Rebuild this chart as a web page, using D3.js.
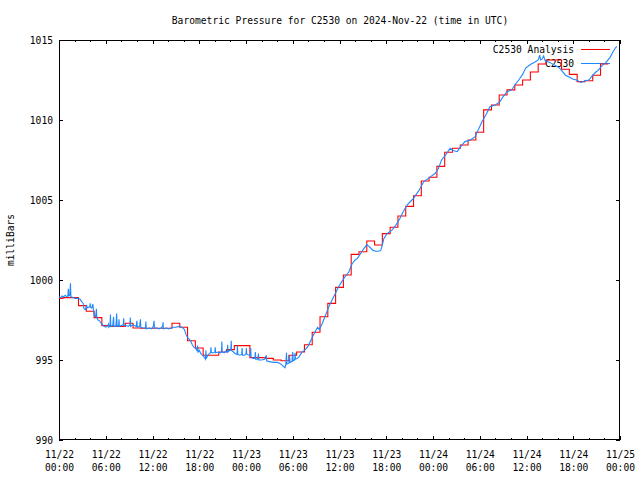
<!DOCTYPE html>
<html><head><meta charset="utf-8">
<script src="https://cdn.jsdelivr.net/npm/d3@7"></script>
<style>
html,body{margin:0;padding:0;background:#fff;}
svg{display:block;}
text{font-family:"DejaVu Sans Mono","Liberation Mono",monospace;font-size:11px;fill:#000;}
</style></head>
<body>
<svg id="chart" width="640" height="480"></svg>
<script>
// ---------- data ----------
const titleText = "Barometric Pressure for C2530 on 2024-Nov-22 (time in UTC)";
const yLabelText = "milliBars";
const seriesNames = ["C2530 Analysis", "C2530"];
const yTicks = [990, 995, 1000, 1005, 1010, 1015];

// hourly analysis values (hour 0 .. 70)
const analysisPressure = [
  998.85, 998.9, 998.9, 998.4, 998.05, 997.65, 997.15, 997.1, 997.1, 997.3,
  997.0, 996.98, 996.98, 996.98, 996.98, 997.3, 997.05, 996.2, 995.75, 995.3,
  995.3, 995.5, 995.65, 995.9, 995.9, 995.15, 995.15, 995.1, 995.0, 994.95,
  995.3, 995.5, 995.95, 996.73, 997.7, 998.54, 999.54, 1000.31, 1001.6, 1001.77,
  1002.44, 1002.19, 1002.9, 1003.3, 1004.0, 1004.6, 1005.27, 1006.19, 1006.42, 1007.1,
  1007.98, 1008.23, 1008.44, 1008.75, 1009.23, 1010.63, 1010.94, 1011.56, 1011.88, 1012.19,
  1012.5, 1013.0, 1013.5, 1013.75, 1013.75, 1013.17, 1012.85, 1012.4, 1012.45, 1012.8,
  1013.5
];

// observations: hours since 2024-11-22 00:00 UTC, and pressure
const obsHours = [
  0.0,0.25,0.4,0.6,0.8,1.0,1.15,1.2,1.27,1.4,1.47,1.53,1.8,2.1,2.5,2.7,2.9,3.1,3.2,3.35,
  3.5,3.55,3.6,3.8,3.95,4.0,4.05,4.2,4.35,4.4,4.55,4.7,4.8,4.85,5.0,5.2,5.4,5.6,5.8,6.0,
  6.2,6.35,6.4,6.55,6.6,6.65,6.9,7.0,7.05,7.3,7.4,7.45,7.65,7.7,7.75,8.0,8.25,8.3,8.35,8.6,
  8.9,9.1,9.15,9.2,9.5,9.9,10.0,10.05,10.35,10.45,10.5,10.8,11.1,11.15,11.2,11.6,11.9,12.1,12.2,12.25,
  12.6,12.8,13.1,13.3,13.35,13.4,13.8,14.1,14.4,14.7,15.0,15.4,15.8,16.1,16.3,16.5,16.7,16.9,17.1,17.3,
  17.5,17.7,17.8,17.85,18.0,18.2,18.4,18.6,18.8,18.85,18.9,19.1,19.3,19.45,19.5,19.55,19.8,20.0,20.05,20.1,
  20.4,20.7,20.85,20.9,20.95,21.2,21.4,21.6,21.65,21.7,21.9,22.05,22.1,22.15,22.4,22.6,22.85,22.9,22.95,23.2,
  23.45,23.5,23.55,23.8,24.0,24.05,24.1,24.4,24.55,24.6,24.65,24.9,25.15,25.2,25.25,25.5,25.6,25.65,26.0,26.4,
  26.6,26.65,27.0,27.5,28.0,28.3,28.6,28.8,29.0,29.1,29.2,29.25,29.5,29.6,29.65,29.9,30.0,30.05,30.25,30.3,
  30.35,30.6,30.8,31.0,31.2,31.5,31.7,32.0,32.3,32.6,32.9,33.2,33.4,33.8,34.2,34.65,35.0,35.4,35.9,36.3,
  36.7,37.2,37.6,38.0,38.3,38.7,39.1,39.5,39.8,40.0,40.3,40.7,41.0,41.3,41.5,41.7,42.1,42.7,43.2,43.7,
  44.2,44.7,45.3,45.5,46.2,46.8,47.7,48.3,48.7,49.1,49.6,50.2,50.6,51.1,51.5,52.1,52.8,53.4,53.8,54.3,
  54.9,55.3,56.0,56.6,57.0,57.5,58.1,58.5,59.0,59.5,59.9,60.6,61.0,61.5,61.7,61.8,62.0,62.2,62.4,63.0,
  63.7,64.1,64.5,65.0,65.4,66.0,66.4,67.0,67.5,68.0,68.5,68.9,69.2,69.7,70.2,70.7,71.1,71.4,71.6
];
const obsPressure = [
  998.95,998.9,999.0,998.95,999.05,998.95,999.05,999.45,999.0,999.05,999.8,998.95,998.9,998.85,998.85,998.8,998.65,998.55,998.2,998.15,
  998.3,998.45,998.25,998.3,998.35,998.55,998.3,998.25,998.5,998.2,997.75,997.7,998.2,997.65,997.5,997.45,997.3,997.2,997.1,997.05,
  997.1,997.25,997.05,997.15,997.85,997.1,997.15,997.7,997.1,997.1,997.9,997.15,997.1,997.55,997.1,997.15,997.2,997.6,997.15,997.15,
  997.1,997.2,997.65,997.1,997.2,997.1,997.45,997.05,997.1,997.55,997.05,997.0,997.0,997.4,996.95,997.0,996.95,997.1,997.45,997.0,
  997.0,996.95,997.0,997.1,997.35,996.95,997.0,996.95,997.0,997.05,997.05,997.1,997.05,996.9,996.6,996.4,996.3,996.2,995.95,995.8,
  995.75,995.6,995.9,995.5,995.6,995.4,995.3,995.2,995.05,995.6,995.1,995.3,995.4,995.45,995.8,995.45,995.45,995.5,995.8,995.45,
  995.5,995.45,995.5,996.15,995.5,995.45,995.55,995.5,995.95,995.5,995.6,995.6,996.2,995.6,995.5,995.4,995.35,995.9,995.35,995.3,
  995.35,995.75,995.3,995.3,995.4,995.75,995.35,995.3,995.3,995.75,995.2,995.1,995.1,995.5,995.05,995.05,995.4,995.0,995.0,995.05,
  995.3,994.95,994.9,994.85,994.85,994.8,994.7,994.6,994.52,994.7,995.45,994.75,994.8,995.3,994.85,994.9,995.5,994.95,995.0,995.45,
  995.05,995.1,995.2,995.35,995.5,995.6,995.7,995.9,996.2,996.5,996.8,997.05,996.9,997.3,997.8,998.35,998.7,999.1,999.6,999.9,
  1000.2,1000.5,1001.0,1001.25,1001.35,1001.65,1001.95,1002.2,1002.1,1002.0,1001.85,1001.8,1001.8,1001.85,1002.2,1002.6,1002.9,1003.1,1003.4,1003.8,
  1004.3,1004.7,1005.0,1005.1,1005.6,1006.14,1006.46,1006.67,1006.98,1007.5,1007.8,1008.23,1008.1,1008.02,1008.3,1008.65,1008.75,1008.96,1009.38,1009.9,
  1010.42,1010.83,1010.94,1011.15,1011.46,1011.77,1011.88,1012.19,1012.5,1012.85,1013.25,1013.5,1013.6,1013.75,1014.05,1013.75,1013.8,1014.0,1013.7,1013.6,
  1013.4,1013.3,1013.1,1012.8,1012.7,1012.55,1012.5,1012.35,1012.45,1012.5,1012.8,1013.0,1013.1,1013.4,1013.6,1013.9,1014.25,1014.5,1014.6
];

// ---------- layout ----------
const L = 59, R = 620, T = 40, B = 440;
const t0 = new Date(Date.UTC(2024, 10, 22, 0, 0));
const t1 = new Date(Date.UTC(2024, 10, 25, 0, 0));
const hourToDate = h => new Date(t0.getTime() + h * 3600e3);

const svg = d3.select("#chart");
const x = d3.scaleUtc().domain([t0, t1]).range([L, R]);
const y = d3.scaleLinear().domain([990, 1015]).range([B, T]);

const CH = 5.8;
function fit(sel) {
  sel.each(function () {
    const n = this.textContent.length;
    d3.select(this).attr("textLength", n * CH).attr("lengthAdjust", "spacingAndGlyphs");
  });
}

// title
svg.append("text").attr("x", 340).attr("y", 24).attr("text-anchor", "middle")
  .text(titleText).call(fit);

// y label
svg.append("text").attr("transform", "translate(14,240) rotate(-90)")
  .attr("text-anchor", "middle").text(yLabelText).call(fit);

// axes ticks
const majorTicks = x.ticks(d3.utcHour.every(6));
const minorTicks = x.ticks(d3.utcHour.every(2));

function tickAxis(axis, g) {
  g.call(axis);
  g.select(".domain").remove();
  g.selectAll("line").attr("stroke", "#000").attr("shape-rendering", "crispEdges");
}

const gxMinor = svg.append("g").attr("transform", `translate(0,${B})`);
tickAxis(d3.axisBottom(x).tickValues(minorTicks).tickSize(-2).tickFormat(""), gxMinor);
const gxMinorTop = svg.append("g").attr("transform", `translate(0,${T})`);
tickAxis(d3.axisTop(x).tickValues(minorTicks).tickSize(-2).tickFormat(""), gxMinorTop);
const gxTop = svg.append("g").attr("transform", `translate(0,${T})`);
tickAxis(d3.axisTop(x).tickValues(majorTicks).tickSize(-4).tickFormat(""), gxTop);

const gx = svg.append("g").attr("transform", `translate(0,${B})`);
tickAxis(d3.axisBottom(x).tickValues(majorTicks).tickSize(-4).tickPadding(0).tickFormat(""), gx);
gx.selectAll(".tick").each(function (d) {
  const t = d3.select(this).append("text").attr("text-anchor", "middle").attr("fill", "#000");
  t.append("tspan").attr("x", 0).attr("y", 18).text(d3.utcFormat("%m/%d")(d)).call(fit);
  t.append("tspan").attr("x", 0).attr("y", 31).text(d3.utcFormat("%H:%M")(d)).call(fit);
});

const gy = svg.append("g").attr("transform", `translate(${L},0)`);
tickAxis(d3.axisLeft(y).tickValues(yTicks).tickSize(-4).tickPadding(0).tickFormat(""), gy);
gy.selectAll(".tick").append("text").attr("x", -6).attr("dy", "0.35em")
  .attr("text-anchor", "end").attr("fill", "#000").text(d => d).call(fit);

const gyR = svg.append("g").attr("transform", `translate(${R},0)`);
tickAxis(d3.axisRight(y).tickValues(yTicks).tickSize(-4).tickFormat(""), gyR);

// border
svg.append("rect").attr("x", L + 0.5).attr("y", T + 0.5)
  .attr("width", R - L - 1).attr("height", B - T - 1)
  .attr("fill", "none").attr("stroke", "#000").attr("shape-rendering", "crispEdges");

// clip
svg.append("clipPath").attr("id", "clip").append("rect")
  .attr("x", L).attr("y", T).attr("width", R - L).attr("height", B - T);

const colors = ["#ff0000", "#1e88ff"];

// legend
[0, 1].forEach(i => {
  const yy = 49 + i * 14;
  svg.append("text").attr("x", 574).attr("y", yy).attr("dy", "0.35em")
    .attr("text-anchor", "end").text(seriesNames[i]).call(fit);
  svg.append("line").attr("x1", 581).attr("x2", 610).attr("y1", yy + 0.5).attr("y2", yy + 0.5)
    .attr("stroke", colors[i]).attr("stroke-width", 1).attr("shape-rendering", "crispEdges");
});

// analysis: histogram-like steps centred on each hour
const anaPts = analysisPressure.map((v, i) => [Math.max(0, i - 0.5), v]);
anaPts.push([analysisPressure.length - 0.5, analysisPressure[analysisPressure.length - 1]]);
const stepLine = d3.line()
  .x(d => x(hourToDate(d[0]))).y(d => y(d[1]))
  .curve(d3.curveStepAfter);
svg.append("path").attr("clip-path", "url(#clip)")
  .attr("d", stepLine(anaPts)).attr("fill", "none")
  .attr("stroke", colors[0]).attr("stroke-width", 1.1);

// observations
const obs = obsHours.map((h, i) => [h, obsPressure[i]]);
const obsLine = d3.line().x(d => x(hourToDate(d[0]))).y(d => y(d[1]));
svg.append("path").attr("clip-path", "url(#clip)")
  .attr("d", obsLine(obs)).attr("fill", "none")
  .attr("stroke", colors[1]).attr("stroke-width", 1.1);
</script>
</body></html>
